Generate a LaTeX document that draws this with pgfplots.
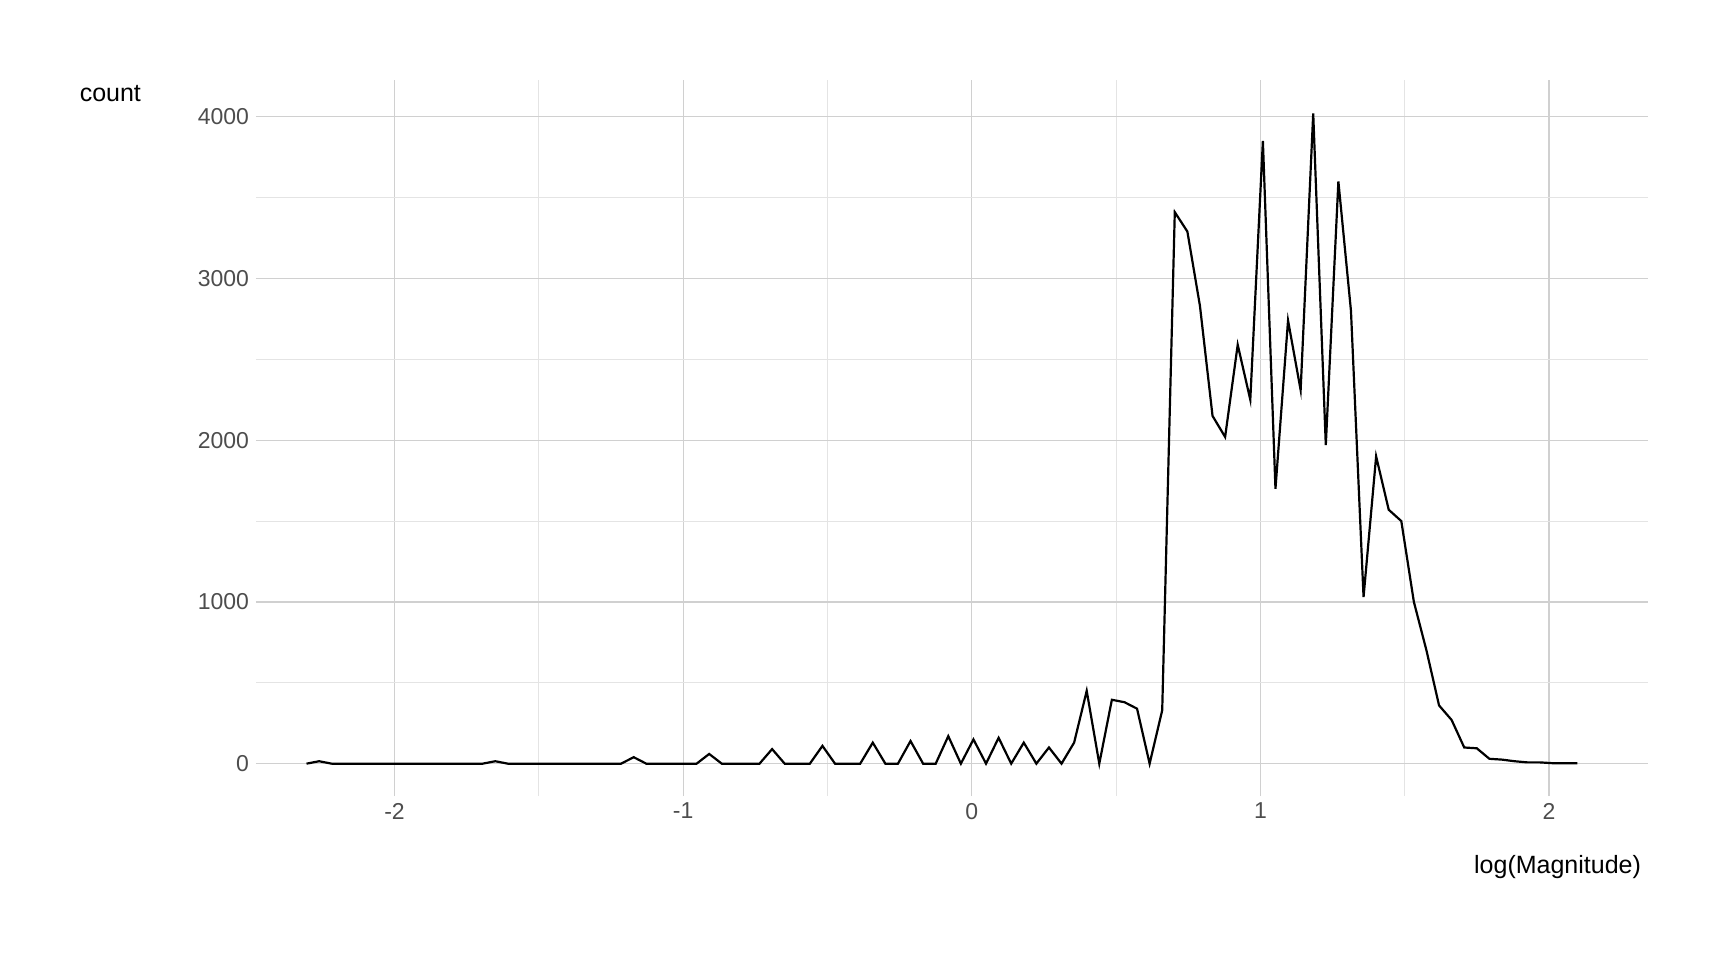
\documentclass[border=0pt]{standalone}
\usepackage{pgfplots}
\pgfplotsset{compat=1.18}
\usepackage{fontspec}
\setmainfont{Liberation Sans}
\definecolor{gridc}{HTML}{D0D0D0}
\definecolor{gridm}{HTML}{E4E4E4}
\definecolor{tickc}{HTML}{4D4D4D}
\begin{document}
\begin{tikzpicture}
\useasboundingbox (-128pt,-82pt) rectangle (736pt,398pt);
\begin{axis}[at={(0,0)},anchor=south west,scale only axis,width=696pt,height=358pt,
xmin=-2.48,xmax=2.343,ymin=-200,ymax=4227,
axis line style={draw=none},tick style={draw=none},
xtick={-2,-1,0,1,2},ytick={0,1000,2000,3000,4000},
minor xtick={-2.5,-1.5,-0.5,0.5,1.5},minor ytick={500,1500,2500,3500},
grid=both,major grid style={gridc,line width=0.6pt},minor grid style={gridm,line width=0.4pt},
/pgf/number format/assume math mode=true,
yticklabel style={font=\fontsize{11.5}{13}\selectfont,text=tickc},
xticklabel style={font=\fontsize{11.5}{13}\selectfont,text=tickc},
scaled y ticks=false,
y tick label style={/pgf/number format/1000 sep={}},
clip=false]
\addplot[black,line width=1.1pt] table[x expr={-2.305+0.0436*\thisrow{i}},y=v]{
i v
0 0
1 15
2 0
14 0
15 15
16 0
25 0
26 40
27 0
31 0
32 60
33 0
36 0
37 90
38 0
40 0
41 110
42 0
44 0
45 130
46 0
47 0
48 140
49 0
50 0
51 170
52 0
53 150
54 0
55 160
56 0
57 130
58 0
59 100
60 0
61 130
62 450
63 0
64 395
65 380
66 340
67 0
68 330
69 3410
70 3290
71 2830
72 2150
73 2020
74 2590
75 2250
76 3850
77 1700
78 2740
79 2310
80 4020
81 1970
82 3600
83 2800
84 1030
85 1900
86 1570
87 1500
88 1000
89 700
90 360
91 270
92 100
93 95
94 30
95 25
96 15
97 8
98 8
99 3
100 2
101 2
};
\node[anchor=north east,font=\fontsize{12.5}{14}\selectfont] at (axis description cs:1,-0.073) {log(Magnitude)};
\node[anchor=east,font=\fontsize{12.5}{14}\selectfont] at ([xshift=-54pt]axis description cs:0,0.981) {count};
\end{axis}
\end{tikzpicture}
\end{document}
